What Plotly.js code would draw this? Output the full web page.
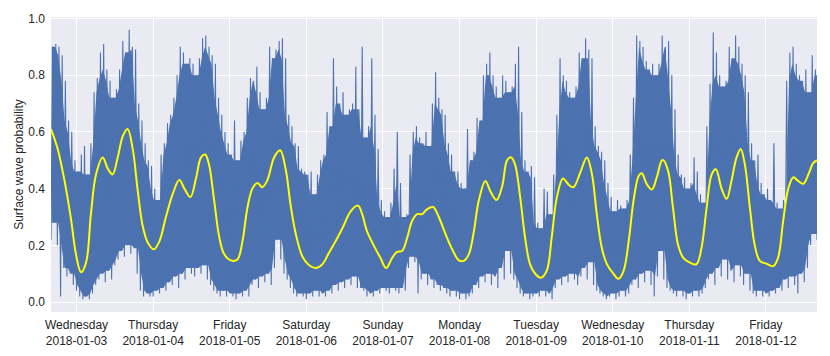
<!DOCTYPE html>
<html>
<head>
<meta charset="utf-8">
<script src="https://cdn.plot.ly/plotly-3.0.1.min.js"></script>
<style>html,body{margin:0;padding:0;background:#fff;}#chart{width:830px;height:356px;}</style>
</head>
<body>
<div id="chart"></div>
<script>
// Series start time (hourly samples from this moment)
const startTime = "2018-01-02 16:00";

// Hourly upper envelope of the raw probability signal (241 hourly samples)
const rawHigh = [
0.90,0.91,0.90,0.87,0.78,0.64,0.60,0.50,0.46,0.52,0.55,0.45,0.56,0.74,0.79,0.88,0.91,0.82,0.78,0.72,0.75,0.82,0.92,0.88,0.96,0.90,0.89,0.70,0.64,0.56,0.50,0.48,0.40,0.36,0.52,0.56,0.63,0.66,0.72,0.80,0.90,0.88,0.84,0.86,0.84,0.80,0.86,0.93,0.94,
0.90,0.87,0.84,0.72,0.66,0.60,0.56,0.52,0.64,0.50,0.57,0.60,0.72,0.79,0.78,0.83,0.74,0.68,0.72,0.90,0.86,0.89,0.92,0.93,0.86,0.66,0.62,0.56,0.55,0.47,0.46,0.45,0.46,0.38,0.45,0.50,0.52,0.67,0.62,0.86,0.76,0.70,0.74,0.66,0.68,0.70,0.83,0.68,
0.90,0.58,0.62,0.86,0.66,0.54,0.36,0.32,0.30,0.35,0.47,0.60,0.42,0.30,0.31,0.52,0.60,0.62,0.58,0.56,0.60,0.55,0.70,0.81,0.72,0.68,0.66,0.56,0.52,0.46,0.46,0.42,0.40,0.61,0.50,0.53,0.65,0.64,0.80,0.84,0.88,0.80,0.76,0.72,0.80,0.78,0.74,0.76,
0.84,0.90,0.67,0.50,0.46,0.48,0.44,0.28,0.26,0.40,0.39,0.31,0.45,0.66,0.86,0.80,0.78,0.74,0.72,0.76,0.88,0.86,0.93,0.89,0.86,0.62,0.55,0.53,0.50,0.42,0.37,0.32,0.36,0.34,0.33,0.36,0.52,0.72,0.94,0.92,0.90,0.85,0.82,0.84,0.80,0.84,0.94,0.90,
0.92,0.80,0.68,0.52,0.45,0.44,0.40,0.42,0.51,0.46,0.38,0.35,0.62,0.77,0.95,0.88,0.80,0.76,0.78,0.90,0.86,0.94,0.90,0.84,0.80,0.74,0.56,0.50,0.52,0.42,0.38,0.40,0.36,0.56,0.35,0.33,0.36,0.78,0.88,0.90,0.84,0.80,0.78,0.82,0.74,0.87,0.82,0.80
];

// Hourly lower envelope of the raw probability signal (241 hourly samples)
const rawLow = [
0.22,0.28,0.20,0.02,0.12,0.09,0.10,0.06,0.04,0.02,0.01,0.02,0.01,0.03,0.06,0.08,0.10,0.07,0.11,0.08,0.13,0.15,0.18,0.16,0.20,0.17,0.19,0.10,0.04,0.02,0.03,0.02,0.02,0.04,0.03,0.05,0.04,0.07,0.06,0.09,0.05,0.10,0.08,0.12,0.10,0.09,0.12,0.10,0.13,
0.08,0.06,0.04,0.03,0.02,0.04,0.02,0.03,0.02,0.01,0.03,0.02,0.04,0.02,0.06,0.08,0.05,0.09,0.07,0.10,0.06,0.12,0.22,0.15,0.10,0.08,0.05,0.03,0.02,0.03,0.02,0.01,0.03,0.02,0.04,0.02,0.03,0.02,0.04,0.03,0.06,0.04,0.07,0.05,0.08,0.06,0.09,0.05,
0.05,0.04,0.02,0.03,0.02,0.04,0.03,0.05,0.04,0.03,0.05,0.04,0.03,0.05,0.04,0.12,0.16,0.14,0.03,0.08,0.10,0.06,0.08,0.05,0.06,0.04,0.05,0.03,0.02,0.04,0.02,0.01,0.03,0.01,0.02,0.03,0.06,0.05,0.09,0.07,0.10,0.06,0.09,0.05,0.12,0.08,0.18,0.10,
0.08,0.05,0.03,0.02,0.03,0.01,0.02,0.03,0.02,0.04,0.02,0.03,0.01,0.05,0.08,0.06,0.09,0.07,0.10,0.08,0.06,0.09,0.12,0.08,0.14,0.06,0.04,0.03,0.02,0.01,0.02,0.03,0.01,0.02,0.04,0.02,0.03,0.06,0.08,0.05,0.10,0.07,0.11,0.06,0.02,0.09,0.18,0.08,
0.05,0.04,0.03,0.02,0.04,0.02,0.01,0.03,0.02,0.04,0.02,0.03,0.05,0.08,0.10,0.06,0.12,0.09,0.15,0.08,0.11,0.07,0.13,0.09,0.06,0.10,0.04,0.03,0.02,0.04,0.02,0.03,0.02,0.04,0.03,0.05,0.04,0.08,0.05,0.09,0.06,0.03,0.10,0.07,0.12,0.20,0.24,0.22
];

// Smoothed probability (yellow): hours after startTime, and values
const smoothHours = [
0,2.1,4.2,6.3,7.8,9.4,11,12.5,14.1,16.2,17.8,19.3,20.9,22.5,24,25.6,27.2,28.7,30.3,32.2,34,36,38.1,40.2,41.8,43.7,45.5,47,48.3,
49.5,51.1,52.7,54.2,56.3,58.4,60,61.5,63.1,64.7,66.2,67.8,69.9,71.8,73.5,75.1,76.7,78.8,80.9,83,85,87.1,89.2,91.3,93.9,96.2,
97.5,99,101.1,103.2,105,106.9,108.4,110,111.6,113.1,114.7,116.3,117.8,119.7,121.5,123.6,125.7,127.8,129.3,130.9,132.5,134,136.1,137.7,139.6,141.4,142.9,144.2,
145.4,147,148.5,150.1,151.7,153.5,155.3,156.9,158.5,160.4,162.1,163.7,165.8,167.9,169.5,171,172.6,174.2,176.2,177.8,179.4,181,182.5,184.1,185.1,186.7,188.3,189.8,191.4,191.9,
193.4,194.9,196.5,198.1,200.2,202.2,203.8,205.4,207,208.3,210.1,211.7,213.2,214.8,216.1,217.4,219,220.5,222.1,224.2,226.3,227.8,229.4,231,232.6,234.1,235.7,237.3,238.8,240
];
const smoothValues = [
0.61,0.54,0.43,0.29,0.17,0.105,0.14,0.31,0.45,0.51,0.47,0.45,0.51,0.585,0.61,0.54,0.39,0.27,0.21,0.186,0.215,0.30,0.38,0.43,0.40,0.37,0.44,0.51,0.52,
0.485,0.36,0.23,0.17,0.147,0.15,0.215,0.33,0.40,0.42,0.405,0.43,0.51,0.535,0.47,0.34,0.24,0.16,0.13,0.12,0.133,0.174,0.215,0.26,0.32,0.34,
0.31,0.25,0.20,0.156,0.12,0.156,0.177,0.18,0.227,0.285,0.31,0.31,0.327,0.335,0.30,0.24,0.186,0.147,0.145,0.168,0.25,0.356,0.427,0.39,0.36,0.41,0.50,0.51,
0.485,0.37,0.23,0.133,0.10,0.086,0.11,0.23,0.37,0.436,0.415,0.405,0.456,0.51,0.45,0.31,0.19,0.133,0.10,0.082,0.11,0.215,0.356,0.444,0.454,0.415,0.397,0.44,0.50,0.50,
0.46,0.33,0.20,0.156,0.139,0.133,0.19,0.33,0.45,0.468,0.40,0.364,0.427,0.51,0.54,0.485,0.33,0.20,0.145,0.135,0.127,0.156,0.286,0.40,0.44,0.427,0.417,0.45,0.49,0.50
];

// Tick labels
const tickDates = ["2018-01-03","2018-01-04","2018-01-05","2018-01-06","2018-01-07","2018-01-08","2018-01-09","2018-01-10","2018-01-11","2018-01-12"];
const tickDays = ["Wednesday","Thursday","Friday","Saturday","Sunday","Monday","Tuesday","Wednesday","Thursday","Friday"];
const yTicks = [0, 0.2, 0.4, 0.6, 0.8, 1.0];
const yTickText = ["0.0","0.2","0.4","0.6","0.8","1.0"];
const endTime = "2018-01-12 16:00";

function pad(n){return (n<10?"0":"")+n;}
const t0 = Date.UTC(2018,0,2,16,0,0);
function stamp(hours){
  const d = new Date(t0 + hours*3600000);
  return d.getUTCFullYear()+"-"+pad(d.getUTCMonth()+1)+"-"+pad(d.getUTCDate())+" "+pad(d.getUTCHours())+":"+pad(d.getUTCMinutes())+":"+pad(d.getUTCSeconds());
}

// raw trace: within each hour the signal swings between its low and high
const rawX = [], rawY = [];
for (let i = 0; i < rawHigh.length; i++) {
  rawX.push(stamp(i)); rawY.push(rawLow[i]);
  rawX.push(stamp(i + 0.5)); rawY.push(rawHigh[i]);
}

// dense core of the band: the part every neighbouring hour reaches
const n = rawHigh.length;
function coreHigh(i){ const a = rawHigh[Math.max(0,i-1)], b = rawHigh[i], c = rawHigh[Math.min(n-1,i+1)]; return Math.min(a,b,c); }
function coreLow(i){ const a = rawLow[Math.max(0,i-1)], b = rawLow[i], c = rawLow[Math.min(n-1,i+1)]; return Math.max(a,b,c); }
const bandX = [], bandY = [];
for (let i = 0; i < n; i++) { bandX.push(stamp(i + 0.25)); bandY.push(coreHigh(i)); }
for (let i = n - 1; i >= 0; i--) { bandX.push(stamp(i + 0.25)); bandY.push(coreLow(i)); }

const smoothX = smoothHours.map(stamp);

const traces = [
  {x: bandX, y: bandY, type: "scatter", mode: "lines", fill: "toself",
   fillcolor: "#4C72B0", line: {color: "rgba(0,0,0,0)", width: 0, simplify: false},
   hoverinfo: "skip", showlegend: false},
  {x: rawX, y: rawY, type: "scatter", mode: "lines",
   line: {color: "#4C72B0", width: 1.1, simplify: false}, hoverinfo: "skip", showlegend: false},
  {x: smoothX, y: smoothValues, type: "scatter", mode: "lines",
   line: {color: "#FFFF00", width: 2, shape: "spline", smoothing: 1}, showlegend: false}
];

const fontFam = "Liberation Sans, Arial, sans-serif";
const layout = {
  width: 830, height: 356,
  margin: {l: 51, r: 13, t: 17, b: 44, pad: 0},
  paper_bgcolor: "#FFFFFF",
  plot_bgcolor: "#EAEAF2",
  font: {family: fontFam, size: 12, color: "#262626"},
  showlegend: false,
  xaxis: {
    type: "date",
    range: [startTime, endTime],
    tickvals: tickDates,
    ticktext: tickDates.map((d, i) => tickDays[i] + "<br>" + d),
    showgrid: true, gridcolor: "#FFFFFF", gridwidth: 1,
    zeroline: false, showline: false, ticks: "",
    ticklabelstandoff: 4,
    tickfont: {family: fontFam, size: 12, color: "#262626"}
  },
  yaxis: {
    range: [-0.035, 1.005],
    tickvals: yTicks, ticktext: yTickText,
    showgrid: true, gridcolor: "#FFFFFF", gridwidth: 1,
    zeroline: false, showline: false, ticks: "",
    ticklabelstandoff: 5,
    tickfont: {family: fontFam, size: 12, color: "#262626"},
    title: {text: "Surface wave probability", font: {family: fontFam, size: 12, color: "#262626"}, standoff: 2}
  }
};

Plotly.newPlot("chart", traces, layout, {displayModeBar: false, staticPlot: true});
</script>
</body>
</html>
